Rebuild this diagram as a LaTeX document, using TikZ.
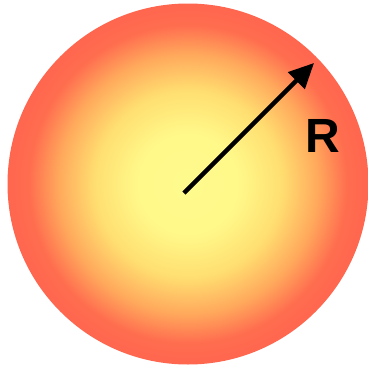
\documentclass[tikz,border=0pt]{standalone}
\usepackage{fontspec}
\setmainfont{Liberation Sans}
\usetikzlibrary{arrows.meta}
\pgfdeclareradialshading{sunshade}{\pgfpoint{0bp}{0bp}}{%
  rgb(0bp)=(1,0.98,0.55);
  rgb(7bp)=(1,0.975,0.54);
  rgb(13bp)=(1,0.87,0.44);
  rgb(18bp)=(1,0.66,0.36);
  rgb(22bp)=(1,0.43,0.31);
  rgb(25bp)=(1,0.40,0.31);
  rgb(50bp)=(1,0.40,0.31)}
\tikzset{
  sunball/.style={circle, inner sep=0pt, minimum size=361pt, shading=sunshade},
  radius arrow/.style={line width=4.3pt, -{Triangle[length=25pt,width=23pt]}},
  rlabel/.style={font=\bfseries\fontsize{48}{48}\selectfont, inner sep=0pt}
}
\begin{document}
\begin{tikzpicture}[x=1pt,y=-1pt]
\useasboundingbox (0,0) rectangle (369,372);
\node[sunball] (sun) at (188,184) {};
\coordinate (tail) at (184,193);
\coordinate (tip) at (314,63);
\draw[radius arrow] (tail) -- (tip);
\node[rlabel] (R) at (323,136) {R};
\end{tikzpicture}
\end{document}
